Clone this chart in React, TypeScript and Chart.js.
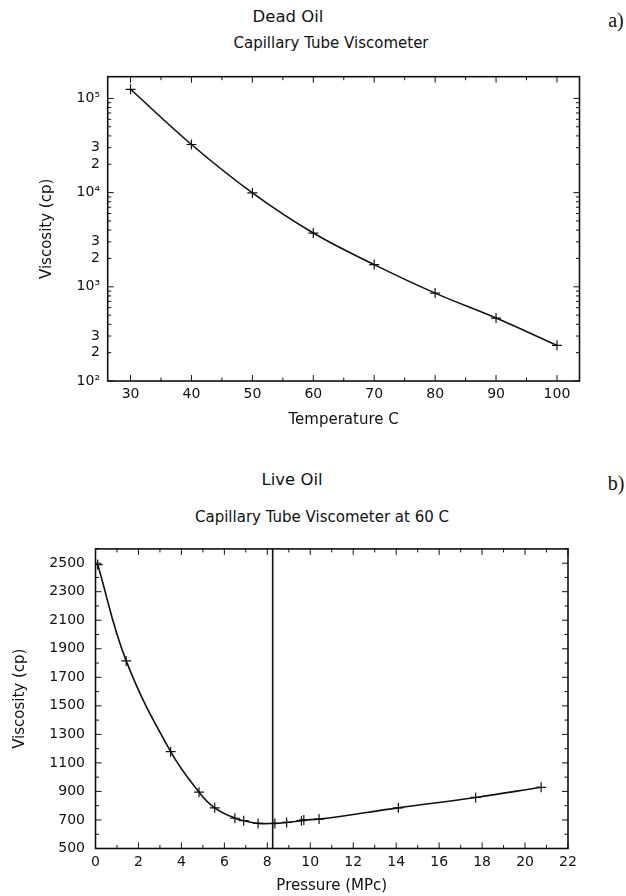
import React, { useEffect, useRef } from 'react';
import { Chart, registerables } from 'chart.js';

Chart.register(...registerables);

// ---- Dead oil (a) ----
const deadTemperature = [30, 40, 50, 60, 70, 80, 90, 100];
const deadViscosity = [125000, 32400, 9920, 3720, 1720, 857, 466, 239];
const deadXTicks = [30, 40, 50, 60, 70, 80, 90, 100];
const deadYTicks = [100, 200, 300, 1000, 2000, 3000, 10000, 20000, 30000, 100000];

// ---- Live oil (b) ----
const livePressure = [0.1, 1.43, 3.5, 4.82, 5.55, 6.49, 6.9, 7.57, 8.35, 8.9, 9.59, 9.7, 10.41, 14.1, 17.7, 20.75];
const liveViscosity = [2490, 1815, 1179, 895, 785, 712, 695, 676, 676, 683, 695, 700, 706, 785, 858, 929];
const liveXTicks = [0, 2, 4, 6, 8, 10, 12, 14, 16, 18, 20, 22];
const liveYTicks = [500, 700, 900, 1100, 1300, 1500, 1700, 1900, 2100, 2300, 2500];
const bubblePointPressure = 8.25;

const FONT = "'DejaVu Sans', sans-serif";
const INK = '#111';

const SUP: Record<number, string> = { 0: '\u2070', 1: '\u00b9', 2: '\u00b2', 3: '\u00b3', 4: '\u2074', 5: '\u2075', 6: '\u2076' };

function logLabel(v: number): string {
  const e = Math.log10(v);
  const r = Math.round(e);
  if (Math.abs(e - r) < 1e-9) return '10' + (SUP[r] || String(r));
  return String(Math.round(v / Math.pow(10, Math.floor(e))));
}

function range(a: number, b: number, step: number): number[] {
  const out: number[] = [];
  for (let v = a; v <= b + 1e-9; v += step) out.push(+v.toFixed(6));
  return out;
}

function logMinor(lo: number, hi: number): number[] {
  const out: number[] = [];
  for (let e = lo; e <= hi; e++) for (let m = 2; m <= 9; m++) out.push(m * Math.pow(10, e));
  return out;
}

type FrameSpec = {
  xMajor: number[]; xMinor: number[]; yMajor: number[]; yMinor: number[]; vline?: number;
};

function framePlugin(spec: FrameSpec) {
  return {
    id: 'frameTicks',
    beforeDatasetsDraw(chart: any) {
      const { ctx, chartArea: a, scales } = chart;
      const xs = scales.x;
      const ys = scales.y;
      ctx.save();
      ctx.strokeStyle = INK;
      ctx.lineWidth = 1;
      const seg = (x1: number, y1: number, x2: number, y2: number) => {
        ctx.beginPath(); ctx.moveTo(x1, y1); ctx.lineTo(x2, y2); ctx.stroke();
      };
      const xt = (vals: number[], len: number) => {
        for (const v of vals) {
          const p = xs.getPixelForValue(v);
          if (p < a.left - 0.5 || p > a.right + 0.5) continue;
          seg(p, a.bottom, p, a.bottom - len);
          seg(p, a.top, p, a.top + len);
        }
      };
      const yt = (vals: number[], len: number) => {
        for (const v of vals) {
          const p = ys.getPixelForValue(v);
          if (p < a.top - 0.5 || p > a.bottom + 0.5) continue;
          seg(a.left, p, a.left + len, p);
          seg(a.right, p, a.right - len, p);
        }
      };
      xt(spec.xMajor, 6);
      xt(spec.xMinor, 3.5);
      yt(spec.yMajor, 6);
      yt(spec.yMinor, 3.5);
      if (spec.vline !== undefined) {
        const p = xs.getPixelForValue(spec.vline);
        ctx.lineWidth = 1.6;
        seg(p, a.top, p, a.bottom);
      }
      ctx.lineWidth = 1.6;
      ctx.strokeRect(a.left, a.top, a.right - a.left, a.bottom - a.top);
      ctx.restore();
    },
  };
}

function lineDataset(xs: number[], ys: number[]) {
  return {
    data: xs.map((x, i) => ({ x, y: ys[i] })),
    borderColor: INK,
    borderWidth: 1.6,
    tension: 0.4,
    pointStyle: 'cross' as const,
    pointRadius: 5,
    pointBorderColor: INK,
    pointBorderWidth: 1.2,
    fill: false,
  };
}

const tickFont = { family: FONT, size: 14 };
const titleFont = { family: FONT, size: 15 };

function textStyle(x: number, y: number, size: number, family = FONT): React.CSSProperties {
  return {
    position: 'absolute', left: x, top: y, transform: 'translate(-50%, -50%)',
    whiteSpace: 'nowrap', fontFamily: family, fontSize: size, lineHeight: 1, color: INK,
  };
}

export default function App() {
  const deadRef = useRef<HTMLCanvasElement>(null);
  const liveRef = useRef<HTMLCanvasElement>(null);

  useEffect(() => {
    const c1 = new Chart(deadRef.current!, {
      type: 'line',
      data: { datasets: [lineDataset(deadTemperature, deadViscosity)] as any },
      options: {
        animation: false,
        responsive: false,
        devicePixelRatio: 1,
        layout: { padding: { top: 16.7, right: 46.5, left: 0, bottom: 0 } },
        plugins: { legend: { display: false }, tooltip: { enabled: false }, title: { display: false } },
        scales: {
          x: {
            type: 'linear', min: 26.25, max: 103.7,
            grid: { display: false, drawTicks: false }, border: { display: false },
            afterBuildTicks: (s: any) => { s.ticks = deadXTicks.map((v) => ({ value: v })); },
            afterFit: (s: any) => { s.height = 59; },
            ticks: { padding: 4.6, color: INK, font: tickFont, autoSkip: false, maxRotation: 0, callback: (v: any) => String(v) },
            title: { display: true, text: 'Temperature C', color: INK, font: titleFont, padding: { top: 0, bottom: 11 } },
          },
          y: {
            type: 'logarithmic', min: 100, max: 170000,
            grid: { display: false, drawTicks: false }, border: { display: false },
            afterBuildTicks: (s: any) => { s.ticks = deadYTicks.map((v) => ({ value: v })); },
            afterFit: (s: any) => { s.width = 107.7; },
            ticks: { padding: 7.7, color: INK, font: tickFont, autoSkip: false, callback: (v: any) => logLabel(Number(v)) },
            title: { display: true, text: 'Viscosity (cp)', color: INK, font: titleFont, padding: { top: 38.5, bottom: 0 } },
          },
        },
      } as any,
      plugins: [framePlugin({
        xMajor: deadXTicks,
        xMinor: range(35, 95, 10),
        yMajor: [100, 1000, 10000, 100000],
        yMinor: logMinor(2, 5),
      })],
    });

    const c2 = new Chart(liveRef.current!, {
      type: 'line',
      data: { datasets: [lineDataset(livePressure, liveViscosity)] as any },
      options: {
        animation: false,
        responsive: false,
        devicePixelRatio: 1,
        layout: { padding: { top: 10.7, right: 58, left: 0, bottom: 0 } },
        plugins: { legend: { display: false }, tooltip: { enabled: false }, title: { display: false } },
        scales: {
          x: {
            type: 'linear', min: 0, max: 22,
            grid: { display: false, drawTicks: false }, border: { display: false },
            afterBuildTicks: (s: any) => { s.ticks = liveXTicks.map((v) => ({ value: v })); },
            afterFit: (s: any) => { s.height = 47.5; },
            ticks: { padding: 5, color: INK, font: tickFont, autoSkip: false, maxRotation: 0, callback: (v: any) => String(v) },
            title: { display: true, text: 'Pressure (MPc)', color: INK, font: titleFont, padding: { top: 0, bottom: 1 } },
          },
          y: {
            type: 'linear', min: 500, max: 2600,
            grid: { display: false, drawTicks: false }, border: { display: false },
            afterBuildTicks: (s: any) => { s.ticks = liveYTicks.map((v) => ({ value: v })); },
            afterFit: (s: any) => { s.width = 95.5; },
            ticks: { padding: 10.5, color: INK, font: tickFont, autoSkip: false, callback: (v: any) => String(v) },
            title: { display: true, text: 'Viscosity (cp)', color: INK, font: titleFont, padding: { top: 11, bottom: 0 } },
          },
        },
      } as any,
      plugins: [framePlugin({
        xMajor: liveXTicks,
        xMinor: range(1, 21, 2),
        yMajor: liveYTicks,
        yMinor: range(600, 2600, 200),
        vline: bubblePointPressure,
      })],
    });

    return () => { c1.destroy(); c2.destroy(); };
  }, []);

  return (
    <div style={{ position: 'absolute', left: 0, top: 0, width: 626, height: 896, background: '#fff', overflow: 'hidden' }}>
      <div style={textStyle(288, 17, 16.5)}>Dead Oil</div>
      <div style={textStyle(331, 43, 15)}>Capillary Tube Viscometer</div>
      <div style={{ ...textStyle(616, 20, 20, "'Liberation Serif', serif") }}>a)</div>
      <canvas ref={deadRef} width={626} height={380}
        style={{ position: 'absolute', left: 0, top: 60, width: 626, height: 380 }} />
      <div style={textStyle(292, 480, 16.5)}>Live Oil</div>
      <div style={textStyle(322, 517, 15)}>Capillary Tube Viscometer at 60 C</div>
      <div style={{ ...textStyle(616, 483, 20, "'Liberation Serif', serif") }}>b)</div>
      <canvas ref={liveRef} width={626} height={366}
        style={{ position: 'absolute', left: 0, top: 530, width: 626, height: 366 }} />
    </div>
  );
}
